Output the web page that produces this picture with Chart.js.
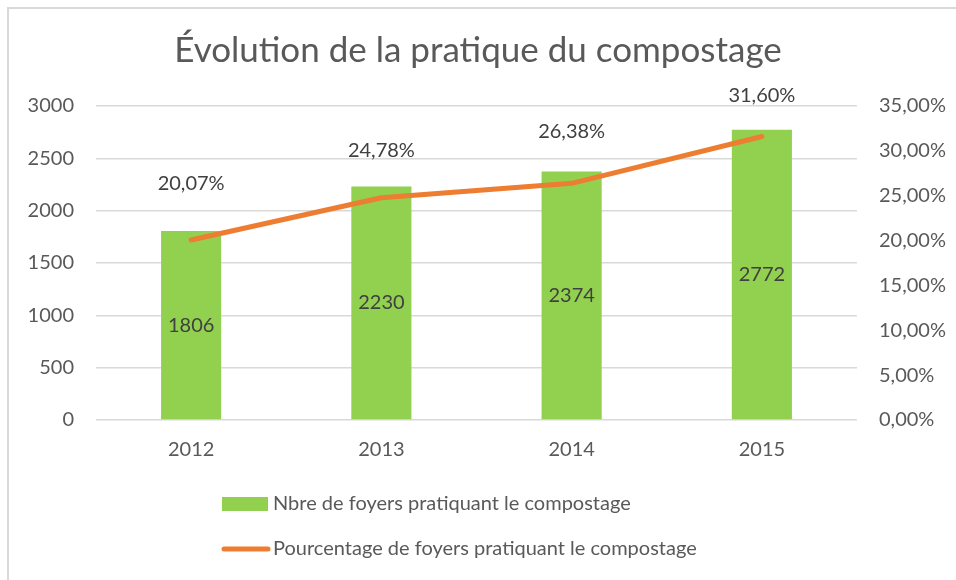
<!DOCTYPE html>
<html>
<head>
<meta charset="utf-8">
<script src="https://cdn.jsdelivr.net/npm/chart.js@4/dist/chart.umd.min.js"></script>
<style>
html,body{margin:0;padding:0;background:#fff;overflow:hidden;}
#wrap{position:relative;width:956px;height:580px;}
#frame{position:absolute;left:7px;top:7px;width:2000px;height:2000px;border-top:2px solid #d9d9d9;border-left:2px solid #d9d9d9;box-sizing:border-box;}
canvas{position:absolute;left:0;top:0;}
</style>
</head>
<body>
<div id="wrap"><div id="frame"></div><canvas id="c" width="956" height="580"></canvas></div>
<script>
const categories = ['2012', '2013', '2014', '2015'];
const foyers = [1806, 2230, 2374, 2772];
const pourcentages = [20.07, 24.78, 26.38, 31.60];
const leftTicks = { min: 0, max: 3000, step: 500 };
const rightTicks = { min: 0, max: 35, step: 5 };
const titleText = 'Évolution de la pratique du compostage';
const seriesNames = ['Nbre de foyers pratiquant le compostage', 'Pourcentage de foyers pratiquant le compostage'];

const FONT = 'Lato';
const TXT = '#595959';
const LBL = '#404040';
const FS = 20;
const fmtPct = v => v.toFixed(2).replace('.', ',') + '%';

const labelsPlugin = {
  id: 'dataLabels',
  afterDatasetsDraw(chart, args, opts) {
    const ctx = chart.ctx;
    ctx.save();
    ctx.font = FS + 'px ' + FONT;
    ctx.fillStyle = LBL;
    ctx.textAlign = 'center';
    ctx.textBaseline = 'middle';
    chart.data.datasets.forEach((ds, di) => {
      const meta = chart.getDatasetMeta(di);
      meta.data.forEach((el, i) => {
        if (ds.type === 'bar') {
          ctx.fillText(String(ds.data[i]), el.x, (el.y + el.base) / 2);
        } else {
          const off = opts.lineOffsets[i];
          ctx.fillText(fmtPct(ds.data[i]), el.x, el.y - off);
        }
      });
    });
    ctx.restore();
  }
};

const legendPlugin = {
  id: 'vLegend',
  afterDraw(chart, args, opts) {
    const ctx = chart.ctx;
    ctx.save();
    ctx.font = FS + 'px ' + FONT;
    ctx.textBaseline = 'middle';
    ctx.textAlign = 'left';
    const items = chart.data.datasets.slice().sort((a, b) => (a.type === 'bar' ? -1 : 1) - (b.type === 'bar' ? -1 : 1));
    items.forEach((ds, i) => {
      const y = opts.y0 + i * opts.rowGap;
      if (ds.type === 'bar') {
        ctx.fillStyle = ds.backgroundColor;
        ctx.fillRect(opts.x, y - 7, 46, 14);
      } else {
        ctx.strokeStyle = ds.borderColor;
        ctx.lineWidth = 5;
        ctx.lineCap = 'round';
        ctx.beginPath();
        ctx.moveTo(opts.x + 2, y);
        ctx.lineTo(opts.x + 46, y);
        ctx.stroke();
      }
      ctx.fillStyle = TXT;
      ctx.fillText(ds.label, opts.x + 51, y);
    });
    ctx.restore();
  }
};

new Chart(document.getElementById('c'), {
  data: {
    labels: categories,
    datasets: [
      {
        type: 'line',
        label: seriesNames[1],
        data: pourcentages,
        yAxisID: 'y1',
        borderColor: '#ED7D31',
        backgroundColor: '#ED7D31',
        borderWidth: 5,
        borderCapStyle: 'round',
        borderJoinStyle: 'round',
        tension: 0,
        pointRadius: 0,
        order: 0
      },
      {
        type: 'bar',
        label: seriesNames[0],
        data: foyers,
        yAxisID: 'y',
        backgroundColor: '#92D050',
        barPercentage: 0.316,
        categoryPercentage: 1,
        order: 1
      }
    ]
  },
  options: {
    responsive: false,
    animation: false,
    layout: { padding: { left: 0, right: 0, top: 0, bottom: 0 } },
    plugins: {
      legend: { display: false },
      tooltip: { enabled: false },
      title: {
        display: true,
        text: titleText,
        color: TXT,
        font: { family: FONT, size: 35, weight: 'normal' },
        padding: { top: 30, bottom: 34 }
      },
      dataLabels: { lineOffsets: [56, 47, 52, 41] },
      vLegend: { x: 222, y0: 504, rowGap: 45 }
    },
    scales: {
      x: {
        grid: { display: false },
        border: { display: false },
        ticks: { color: TXT, font: { family: FONT, size: FS }, padding: 10 },
        afterFit(s) { s.height = 160; }
      },
      y: {
        position: 'left',
        min: leftTicks.min, max: leftTicks.max,
        ticks: { stepSize: leftTicks.step, color: TXT, font: { family: FONT, size: FS }, padding: 22, callback: v => String(v) },
        grid: { color: '#d9d9d9', lineWidth: 1.5, drawTicks: false },
        border: { display: false },
        afterFit(s) { s.width = 96; }
      },
      y1: {
        position: 'right',
        min: rightTicks.min, max: rightTicks.max,
        ticks: { stepSize: rightTicks.step, color: TXT, font: { family: FONT, size: FS }, padding: 22, callback: v => fmtPct(v) },
        grid: { display: false, drawTicks: false },
        border: { display: false },
        afterFit(s) { s.width = 99; }
      }
    }
  },
  plugins: [labelsPlugin, legendPlugin]
});
</script>
</body>
</html>
